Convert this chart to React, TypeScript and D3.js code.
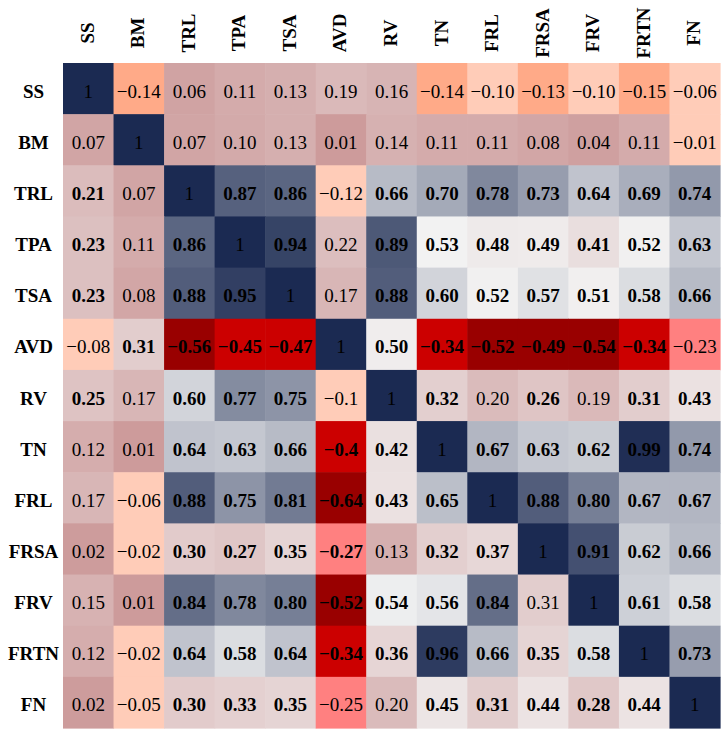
import React from "react";
import * as d3 from "d3";

const LABELS = ["SS", "BM", "TRL", "TPA", "TSA", "AVD", "RV", "TN", "FRL", "FRSA", "FRV", "FRTN", "FN"];

// Displayed correlation values (row by row)
const ROW_SS = ["1", "-0.14", "0.06", "0.11", "0.13", "0.19", "0.16", "-0.14", "-0.10", "-0.13", "-0.10", "-0.15", "-0.06"];
const ROW_BM = ["0.07", "1", "0.07", "0.10", "0.13", "0.01", "0.14", "0.11", "0.11", "0.08", "0.04", "0.11", "-0.01"];
const ROW_TRL = ["0.21", "0.07", "1", "0.87", "0.86", "-0.12", "0.66", "0.70", "0.78", "0.73", "0.64", "0.69", "0.74"];
const ROW_TPA = ["0.23", "0.11", "0.86", "1", "0.94", "0.22", "0.89", "0.53", "0.48", "0.49", "0.41", "0.52", "0.63"];
const ROW_TSA = ["0.23", "0.08", "0.88", "0.95", "1", "0.17", "0.88", "0.60", "0.52", "0.57", "0.51", "0.58", "0.66"];
const ROW_AVD = ["-0.08", "0.31", "-0.56", "-0.45", "-0.47", "1", "0.50", "-0.34", "-0.52", "-0.49", "-0.54", "-0.34", "-0.23"];
const ROW_RV = ["0.25", "0.17", "0.60", "0.77", "0.75", "-0.1", "1", "0.32", "0.20", "0.26", "0.19", "0.31", "0.43"];
const ROW_TN = ["0.12", "0.01", "0.64", "0.63", "0.66", "-0.4", "0.42", "1", "0.67", "0.63", "0.62", "0.99", "0.74"];
const ROW_FRL = ["0.17", "-0.06", "0.88", "0.75", "0.81", "-0.64", "0.43", "0.65", "1", "0.88", "0.80", "0.67", "0.67"];
const ROW_FRSA = ["0.02", "-0.02", "0.30", "0.27", "0.35", "-0.27", "0.13", "0.32", "0.37", "1", "0.91", "0.62", "0.66"];
const ROW_FRV = ["0.15", "0.01", "0.84", "0.78", "0.80", "-0.52", "0.54", "0.56", "0.84", "0.31", "1", "0.61", "0.58"];
const ROW_FRTN = ["0.12", "-0.02", "0.64", "0.58", "0.64", "-0.34", "0.36", "0.96", "0.66", "0.35", "0.58", "1", "0.73"];
const ROW_FN = ["0.02", "-0.05", "0.30", "0.33", "0.35", "-0.25", "0.20", "0.45", "0.31", "0.44", "0.28", "0.44", "1"];

const MATRIX = [ROW_SS, ROW_BM, ROW_TRL, ROW_TPA, ROW_TSA, ROW_AVD, ROW_RV, ROW_TN, ROW_FRL, ROW_FRSA, ROW_FRV, ROW_FRTN, ROW_FN];

// Significance flags (1 = significant, shown in bold)
const SIGNIFICANT = [
  "0000000000000",
  "0000000000000",
  "1001101111111",
  "1010101111111",
  "1011001111111",
  "0111101111110",
  "1011100101011",
  "0011111011111",
  "0011111101111",
  "0011110110111",
  "0011111110011",
  "0011111111101",
  "0011100111110",
];

const W = 728;
const H = 736;
const LEFT = 63;
const TOP = 63;
const RIGHT = 720;
const BOTTOM = 728;
const FONT = "'Liberation Serif', 'Times New Roman', Times, serif";

export default function App() {
  const x = d3.scaleBand<string>().domain(LABELS).range([LEFT, RIGHT]);
  const y = d3.scaleBand<string>().domain(LABELS).range([TOP, BOTTOM]);

  const positive = d3
    .scaleLinear<string>()
    .domain([0, 0.53, 1])
    .range(["#CC9999", "#F2F2F2", "#1B2A52"])
    .interpolate(d3.interpolateRgb)
    .clamp(true);
  const negative = d3
    .scaleThreshold<number, string>()
    .domain([-0.48, -0.3, -0.2, -0.125])
    .range(["#990000", "#CC0000", "#FF8080", "#FFAA88", "#FFCCB8"]);
  const colour = (v: number) => (v >= 0 ? positive(v) : negative(v));

  const bw = x.bandwidth();
  const bh = y.bandwidth();

  return (
    <svg
      width={W}
      height={H}
      style={{ position: "absolute", left: 0, top: 0, background: "#fff" }}
      fontFamily={FONT}
    >
      <g>
        {MATRIX.map((row, ri) =>
          row.map((txt, ci) => {
            const v = parseFloat(txt);
            return (
              <rect
                key={`r${ri}-${ci}`}
                x={x(LABELS[ci])!}
                y={y(LABELS[ri])!}
                width={bw + 0.6}
                height={bh + 0.6}
                fill={colour(v)}
              />
            );
          })
        )}
      </g>
      <g>
        {MATRIX.map((row, ri) =>
          row.map((txt, ci) => (
            <text
              key={`t${ri}-${ci}`}
              x={x(LABELS[ci])! + bw / 2}
              y={y(LABELS[ri])! + bh / 2 + 9}
              textAnchor="middle"
              fontSize={19}
              fontWeight={SIGNIFICANT[ri][ci] === "1" ? "bold" : "normal"}
              fill="#000"
            >
              {txt.replace("-", "\u2212")}
            </text>
          ))
        )}
      </g>
      <g>
        {LABELS.map((l) => (
          <text
            key={`rl${l}`}
            x={33.5}
            y={y(l)! + bh / 2 + 9}
            textAnchor="middle"
            fontSize={19}
            fontWeight="bold"
          >
            {l}
          </text>
        ))}
      </g>
      <g>
        {LABELS.map((l) => {
          const cx = x(l)! + bw / 2 + 5.5;
          return (
            <text
              key={`cl${l}`}
              transform={`translate(${cx},33) rotate(-90)`}
              textAnchor="middle"
              fontSize={19}
              fontWeight="bold"
            >
              {l}
            </text>
          );
        })}
      </g>
    </svg>
  );
}
